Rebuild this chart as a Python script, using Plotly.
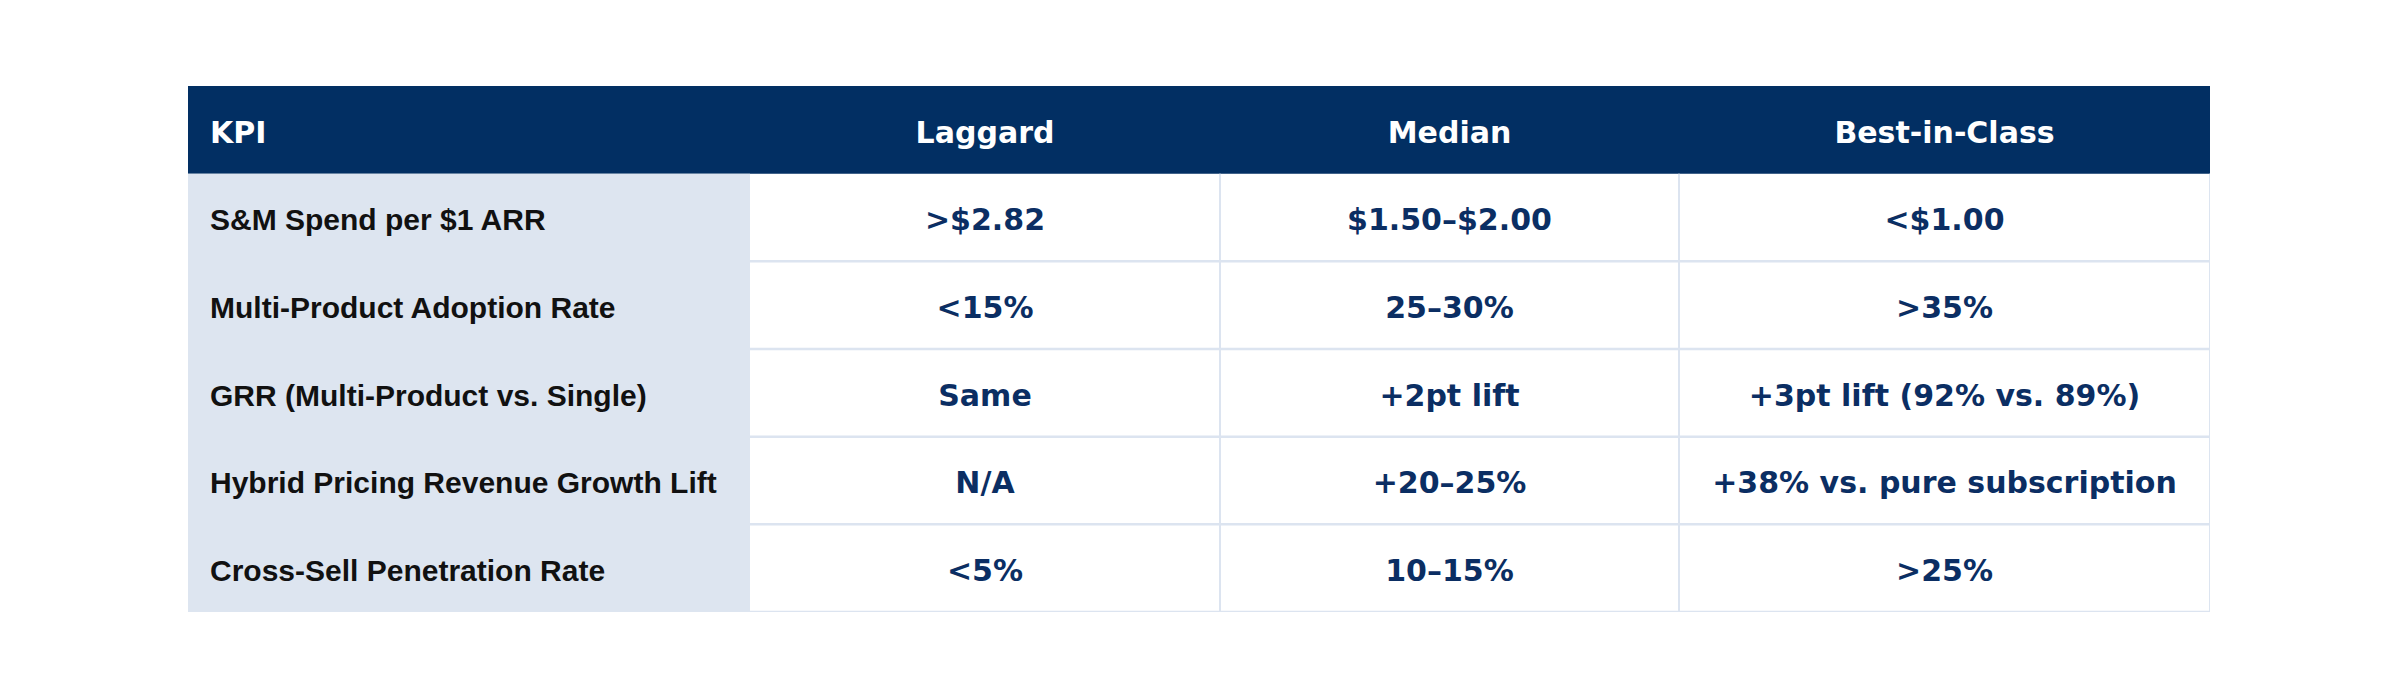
import plotly.graph_objects as go

# table content
columns = ["KPI", "Laggard", "Median", "Best-in-Class"]
kpis = [
    "S&M Spend per $1 ARR",
    "Multi-Product Adoption Rate",
    "GRR (Multi-Product vs. Single)",
    "Hybrid Pricing Revenue Growth Lift",
    "Cross-Sell Penetration Rate",
]
laggard = [">$2.82", "<15%", "Same", "N/A", "<5%"]
median = ["$1.50–$2.00", "25–30%", "+2pt lift", "+20–25%", "10–15%"]
best = ["<$1.00", ">35%", "+3pt lift (92% vs. 89%)", "+38% vs. pure subscription", ">25%"]

# layout bits
col_widths = [562, 470, 459, 531]
navy = "#022f63"
pale = "#dde5f0"
grid = "#dce4f0"
value_color = "#0b2e63"
text_nudge = 0.06  # push text a touch down so glyphs sit visually centred

total_w = sum(col_widths)
edges = [0]
for w in col_widths:
    edges.append(edges[-1] + w)
centers = [(edges[i] + edges[i + 1]) / 2 for i in range(len(col_widths))]
n_rows = len(kpis)
rows = list(range(1, n_rows + 1))
text_rows = [r + text_nudge for r in rows]

fig = go.Figure()

shapes = []
# header band
shapes.append(dict(type="rect", xref="x", yref="y", x0=0, x1=total_w, y0=-0.5, y1=0.5,
                   fillcolor=navy, line=dict(width=0), layer="below"))
# KPI column band
shapes.append(dict(type="rect", xref="x", yref="y", x0=0, x1=edges[1], y0=0.5, y1=n_rows + 0.5,
                   fillcolor=pale, line=dict(width=0), layer="below"))
# horizontal grid lines in the value columns
for r in rows:
    shapes.append(dict(type="line", xref="x", yref="y", x0=edges[1], x1=total_w,
                       y0=r + 0.5, y1=r + 0.5, line=dict(color=grid, width=2.5)))
# vertical grid lines
for e in edges[2:]:
    shapes.append(dict(type="line", xref="x", yref="y", x0=e, x1=e,
                       y0=0.5, y1=n_rows + 0.5, line=dict(color=grid, width=2)))

# header text
head_font = dict(family="DejaVu Sans", size=30, color="white", weight="bold")
fig.add_trace(go.Scatter(
    x=[22], y=[text_nudge], text=[columns[0]], mode="text", textposition="middle right",
    textfont=head_font, hoverinfo="skip", showlegend=False))
fig.add_trace(go.Scatter(
    x=centers[1:], y=[text_nudge] * 3, text=columns[1:], mode="text",
    textposition="middle center", textfont=head_font, hoverinfo="skip", showlegend=False))

# KPI labels
fig.add_trace(go.Scatter(
    x=[22] * n_rows, y=text_rows, text=kpis, mode="text", textposition="middle right",
    textfont=dict(family="Liberation Sans", size=30, color="#111111", weight="bold"),
    hoverinfo="skip", showlegend=False))

# values
for i, vals in enumerate([laggard, median, best]):
    fig.add_trace(go.Scatter(
        x=[centers[i + 1]] * n_rows, y=text_rows, text=vals, mode="text",
        textposition="middle center",
        textfont=dict(family="DejaVu Sans", size=30, color=value_color, weight="bold"),
        hoverinfo="skip", showlegend=False))

fig.update_layout(
    width=2400, height=700,
    margin=dict(l=0, r=0, t=0, b=0),
    paper_bgcolor="white", plot_bgcolor="white",
    shapes=shapes,
    xaxis=dict(domain=[180 / 2400, 2202 / 2400], range=[0, total_w],
               visible=False, fixedrange=True),
    yaxis=dict(domain=[1 - 604 / 700, 1 - 78 / 700], range=[n_rows + 0.5, -0.5],
               visible=False, fixedrange=True),
)

fig.write_html("out.html")
